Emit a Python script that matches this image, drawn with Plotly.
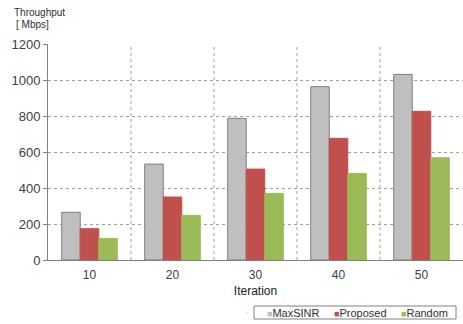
import plotly.graph_objects as go

iterations = ["10", "20", "30", "40", "50"]
maxsinr = [265, 533, 787, 963, 1031]
proposed = [174, 350, 505, 676, 826]
random_ = [120, 248, 370, 481, 568]

series = [
    ("MaxSINR", maxsinr, "#BFBFBF", "#7F7F7F"),
    ("Proposed", proposed, "#C0504D", "#C0504D"),
    ("Random", random_, "#9BBB59", "#9BBB59"),
]

fig = go.Figure()
for name, vals, color, line in series:
    fig.add_trace(go.Bar(
        name=name, x=iterations, y=vals, showlegend=False,
        marker=dict(color=color, line=dict(color=line, width=1)),
    ))
    # compact legend entry: coloured square glyph right next to the label
    fig.add_trace(go.Scatter(
        name=f"<span style='color:{color};font-size:9px'>■</span>{name}", x=[None], y=[None],
        mode="markers", marker=dict(size=1, opacity=0), hoverinfo="skip",
    ))
# invisible spacer entry so the last label is not clipped
fig.add_trace(go.Scatter(name="\u00a0", x=[None], y=[None], mode="markers",
                         marker=dict(size=1, opacity=0), hoverinfo="skip"))

font = "Liberation Sans, Arial, sans-serif"
fig.update_layout(
    width=463, height=324,
    margin=dict(l=48, r=0, t=44, b=64, autoexpand=False),
    paper_bgcolor="white", plot_bgcolor="white",
    barmode="group", bargap=0.33, bargroupgap=0,
    font=dict(family=font, color="#404040", size=12),
    showlegend=True,
    legend=dict(
        orientation="h", xref="container", yref="container",
        x=227 / 463, xanchor="left", y=1 - 312.5 / 324, yanchor="middle",
        borderwidth=0, bgcolor="rgba(0,0,0,0)", font=dict(size=11, color="#303030"),
        itemwidth=30, entrywidth=22, traceorder="normal",
    ),
    xaxis=dict(
        type="category", showgrid=False, showline=True, linecolor="#808080",
        ticks="", tickfont=dict(size=12), ticklabelstandoff=4,
        title=dict(text="Iteration", font=dict(size=12, color="#202020"), standoff=5),
    ),
    yaxis=dict(
        range=[0, 1200], dtick=200, showgrid=True, gridcolor="#A0A0A0",
        griddash="dot", gridwidth=1, showline=True, linecolor="#808080",
        ticks="outside", ticklen=4, tickcolor="#808080",
        tickfont=dict(size=13), zeroline=False,
    ),
)

for i in range(1, len(iterations)):
    fig.add_shape(type="line", xref="x", yref="paper", x0=i - 0.5, x1=i - 0.5,
                  y0=0, y1=1, line=dict(color="#A0A0A0", width=1, dash="dot"), layer="below")

# legend frame
fig.add_shape(type="rect", xref="paper", yref="paper",
              x0=(254 - 48) / 415, x1=(456 - 48) / 415,
              y0=(260 - 319) / 216, y1=(260 - 306) / 216,
              line=dict(color="#808080", width=1), fillcolor="rgba(0,0,0,0)")

fig.add_annotation(text="Throughput", xref="paper", yref="paper", x=(12 - 48) / 415,
                   y=1 + 31 / 216, xanchor="left", yanchor="middle", showarrow=False,
                   font=dict(size=10, color="#303030"))
fig.add_annotation(text="[ Mbps]", xref="paper", yref="paper", x=(14 - 48) / 415,
                   y=1 + 20 / 216, xanchor="left", yanchor="middle", showarrow=False,
                   font=dict(size=10, color="#303030"))

fig.write_html("out.html", config={"displayModeBar": False},
               post_script="document.body.style.margin='0';")
